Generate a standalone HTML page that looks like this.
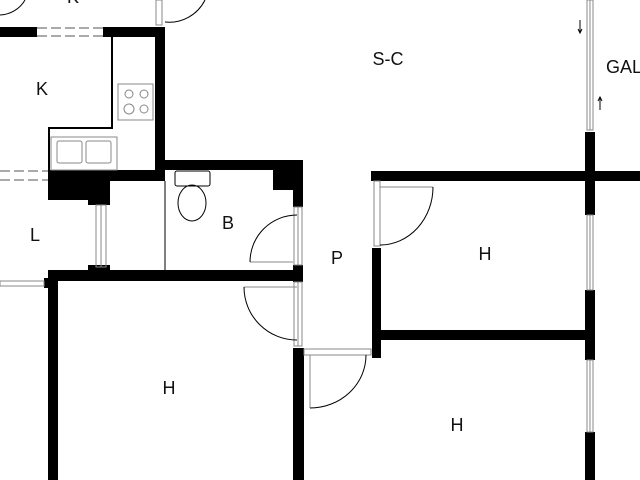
<!DOCTYPE html>
<html><head><meta charset="utf-8"><style>
html,body{margin:0;padding:0;background:#fff;width:640px;height:480px;overflow:hidden}
text{font-family:"Liberation Sans",sans-serif;font-size:18px;fill:#111}
</style></head><body>
<svg width="640" height="480" viewBox="0 0 640 480" xmlns="http://www.w3.org/2000/svg">
<g fill="#000">
<rect x="0" y="27" width="37" height="10"/>
<rect x="103" y="27" width="62" height="10"/>
<rect x="155" y="27" width="10" height="153"/>
<rect x="48" y="170" width="117" height="11"/>
<rect x="48" y="170" width="62" height="30"/>
<rect x="88" y="195" width="22" height="10"/>
<rect x="163" y="160" width="140" height="10"/>
<rect x="273" y="160" width="30" height="30"/>
<rect x="293" y="160" width="10" height="47"/>
<rect x="293" y="265" width="10" height="17"/>
<rect x="88" y="265" width="22" height="8"/>
<rect x="48" y="270" width="255" height="11"/>
<rect x="48" y="270" width="10" height="210"/>
<rect x="44" y="278" width="6" height="10"/>
<rect x="293" y="348" width="11" height="132"/>
<rect x="371" y="171" width="269" height="10"/>
<rect x="372" y="248" width="9" height="110"/>
<rect x="381" y="330" width="209" height="10"/>
<rect x="585" y="132" width="10" height="83"/>
<rect x="585" y="290" width="10" height="70"/>
<rect x="585" y="432" width="10" height="48"/>
</g>
<g fill="none" stroke="#555" stroke-width="1">
<line x1="37" y1="28" x2="103" y2="28" stroke-dasharray="10,4"/>
<line x1="37" y1="36" x2="103" y2="36" stroke-dasharray="10,4"/>
<line x1="0" y1="171" x2="48" y2="171" stroke-dasharray="10,4"/>
<line x1="0" y1="180" x2="48" y2="180" stroke-dasharray="10,4"/>
</g>
<g fill="none" stroke="#000" stroke-width="2">
<polyline points="112,37 112,128 49,128 49,170"/>
</g>
<g fill="none" stroke="#888" stroke-width="1">
<rect x="118" y="84" width="35" height="36"/>
<circle cx="129" cy="94" r="4"/><circle cx="144" cy="94" r="4"/>
<circle cx="129" cy="109" r="5"/><circle cx="144" cy="109" r="4"/>
<rect x="51" y="137" width="66" height="33"/>
<rect x="57" y="141" width="25" height="22" rx="2"/>
<rect x="86" y="141" width="25" height="22" rx="2"/>
<rect x="96" y="205" width="10" height="62"/><line x1="101" y1="205" x2="101" y2="267"/>
<rect x="294" y="207" width="8" height="58"/><line x1="298" y1="207" x2="298" y2="265"/>
<rect x="294" y="282" width="8" height="64"/><line x1="298" y1="282" x2="298" y2="346"/>
<rect x="0" y="281" width="44" height="5"/>
<rect x="374" y="181" width="6" height="65"/>
<rect x="304" y="349" width="67" height="6"/>
<rect x="587" y="0" width="6" height="130"/><line x1="590" y1="0" x2="590" y2="130"/>
<rect x="587" y="215" width="6" height="75"/><line x1="590" y1="215" x2="590" y2="290"/>
<rect x="587" y="360" width="6" height="72"/><line x1="590" y1="360" x2="590" y2="432"/>
<rect x="156" y="0" width="6" height="25"/>
<line x1="380" y1="187" x2="433" y2="187"/>
<line x1="310" y1="355" x2="310" y2="408"/>
<line x1="244" y1="287" x2="297" y2="287"/>
<line x1="250" y1="262" x2="293" y2="262"/>
</g>
<g fill="none" stroke="#000" stroke-width="1">
<line x1="165" y1="181" x2="165" y2="270"/>
<path d="M433,187 A53,58 0 0 1 380,245"/>
<path d="M366,355 A56,53 0 0 1 310,408"/>
<path d="M244,287 A53,53 0 0 0 297,340"/>
<path d="M250,262 A47,47 0 0 1 297,215"/>
<path d="M165,22 A40,40 0 0 0 205,0"/>
<path d="M0,15 A30,30 0 0 0 25,0"/>
<rect x="175" y="171" width="35" height="15" rx="2"/>
<ellipse cx="192" cy="203" rx="14" ry="18"/>
<line x1="580" y1="20" x2="580" y2="32"/><path d="M578,29 L580,33 L582,29"/>
<line x1="600" y1="98" x2="600" y2="110"/><path d="M598,101 L600,97 L602,101"/>
</g>
<text x="42" y="95" text-anchor="middle">K</text>
<text x="35" y="241" text-anchor="middle">L</text>
<text x="228" y="229" text-anchor="middle">B</text>
<text x="388" y="65" text-anchor="middle">S-C</text>
<text x="606" y="73">GAL</text>
<text x="337" y="264" text-anchor="middle">P</text>
<text x="485" y="260" text-anchor="middle">H</text>
<text x="457" y="431" text-anchor="middle">H</text>
<text x="169" y="394" text-anchor="middle">H</text>
<text x="73" y="3" text-anchor="middle">K</text>
</svg>
</body></html>
